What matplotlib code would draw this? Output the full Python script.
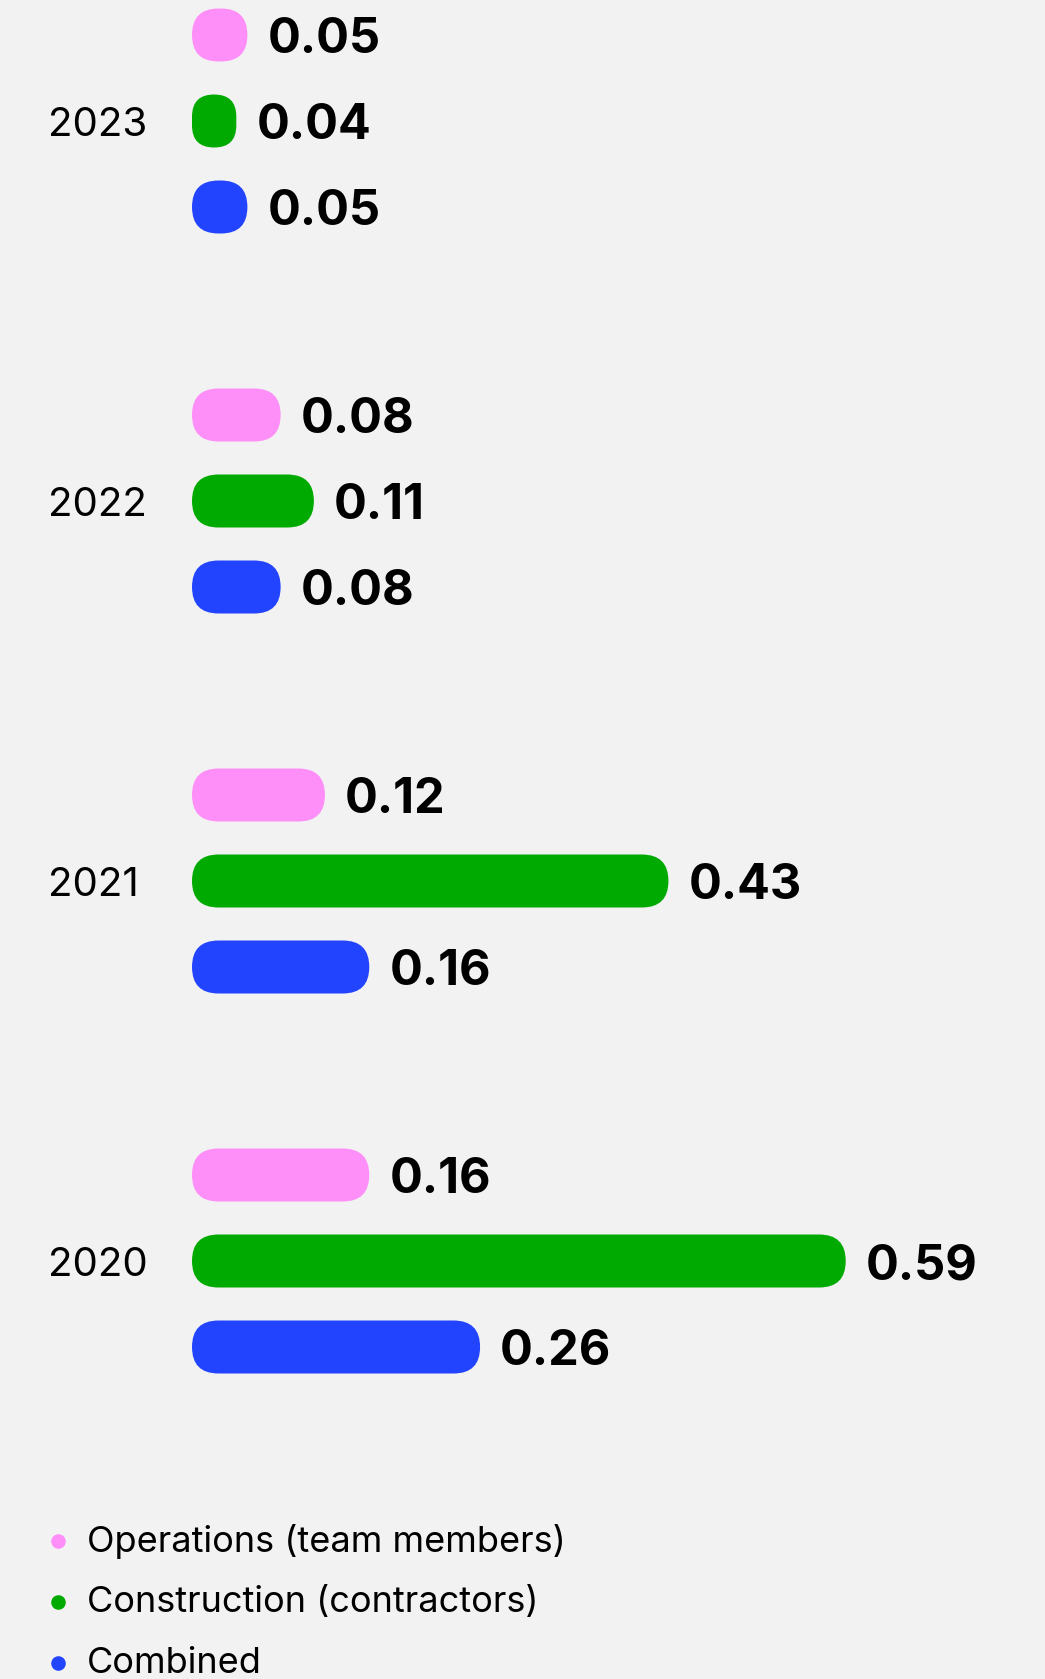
import matplotlib
matplotlib.use("Agg")
import matplotlib.pyplot as plt
from matplotlib.patches import FancyBboxPatch

years = ["2020", "2021", "2022", "2023"]
series = ["Operations (team members)", "Construction (contractors)", "Combined"]
colors = ["#ff8ff8", "#00aa00", "#2244ff"]
operations = [0.16, 0.12, 0.08, 0.05]
construction = [0.59, 0.43, 0.11, 0.04]
combined = [0.26, 0.16, 0.08, 0.05]

W, H = 1045, 1679
PX_X = 1108.0   # pixels per unit of value
PX_Y = 380.0    # pixels per year slot
X0 = 192        # pixel column of value 0
Y0 = 1261       # pixel row (from top) of the 2020 slot
FONT = "Inter"

fig = plt.figure(figsize=(W / 100, H / 100), dpi=100, facecolor="#f2f2f2")
ax = fig.add_axes([0, 0, 1, 1])
ax.set_facecolor("#f2f2f2")
ax.set_xlim(-X0 / PX_X, (W - X0) / PX_X)
ax.set_ylim((Y0 - H) / PX_Y, Y0 / PX_Y)
ax.axis("off")

bar_h = 53 / PX_Y
offset = 86 / PX_Y
aspect = PX_X / PX_Y


def round_bars(bars, color):
    for p in bars:
        x, y = p.get_x(), p.get_y()
        w, h = p.get_width(), p.get_height()
        r = min(w * PX_X, h * PX_Y) / 2 / PX_X
        fb = FancyBboxPatch((x, y), w, h,
                            boxstyle=f"round,pad=0,rounding_size={r}",
                            mutation_aspect=aspect, fc=color, ec="none")
        ax.add_patch(fb)
        p.remove()


for k, (vals, c) in enumerate(zip([operations, construction, combined], colors)):
    ys = [i + offset * (1 - k) for i in range(len(years))]
    bars = ax.barh(ys, vals, height=bar_h, color=c)
    round_bars(bars, c)
    for y, v in zip(ys, vals):
        ax.text(v + 20 / PX_X, y, f"{v:.2f}", va="center_baseline", ha="left",
                fontsize=35, fontweight="bold", family=FONT, color="black")

for i, yr in enumerate(years):
    ax.text(-144 / PX_X, i, yr, va="center_baseline", ha="left", fontsize=29,
            family=FONT, color="black")

# legend
for k, (name, c) in enumerate(zip(series, colors)):
    yp = 1 - (1538 + 61 * k) / H
    ax.scatter([58 / W], [yp - 0.002], s=110, color=c, transform=ax.transAxes,
               clip_on=False, linewidths=0)
    ax.text(87 / W, yp, name, transform=ax.transAxes, va="center_baseline",
            ha="left", fontsize=26, family=FONT, color="black")

fig.savefig("out.png", dpi=100, facecolor=fig.get_facecolor())
